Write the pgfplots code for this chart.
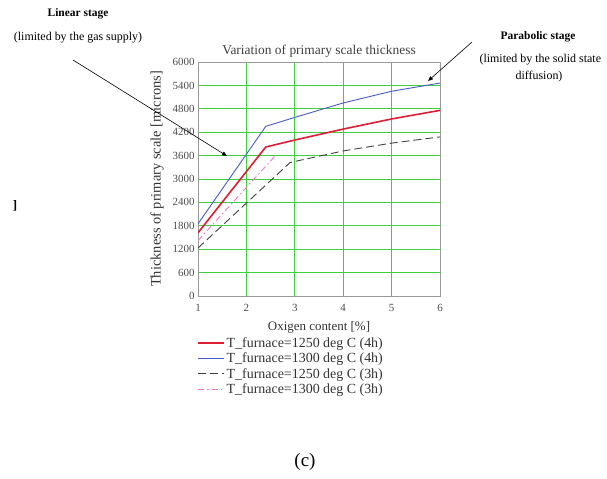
\documentclass[border=0pt]{standalone}
\usepackage{pgfplots}
\pgfplotsset{compat=1.18}
\usepackage{fontspec}
\setmainfont{Liberation Serif}
\usetikzlibrary{arrows.meta}
\definecolor{gridgreen}{RGB}{60,210,60}
\definecolor{bluel}{RGB}{70,90,200}
\definecolor{redl}{RGB}{220,30,50}
\definecolor{pinkl}{RGB}{240,120,200}
\begin{document}
\begin{tikzpicture}
\path[use as bounding box] (0,0) rectangle (607bp,-479bp);
\begin{axis}[
  at={(198bp,-296bp)}, anchor=south west,
  scale only axis, width=242bp, height=234bp,
  xmin=1, xmax=6, ymin=0, ymax=6000,
  xtick={1,2,3,4,5,6}, ytick={0,600,...,6000},
  grid=major, grid style={gridgreen, line width=0.9pt},
  axis line style={gray!80, line width=0.8pt},
  tick style={draw=none},
  ticklabel style={font=\fontsize{11}{12}\selectfont, text=black!70},
  xticklabel style={yshift=-5pt},
  /pgf/number format/assume math mode=true,
  /pgf/number format/1000 sep={},
  title={Variation of primary scale thickness},
  title style={font=\fontsize{13.5}{15}\selectfont, text=black!75, yshift=-5pt},
  xlabel={Oxigen content [\%]},
  xlabel style={font=\fontsize{13}{14}\selectfont, text=black!80, yshift=-3pt},
  ylabel={Thickness of primary scale [microns]},
  ylabel style={font=\fontsize{14.5}{16}\selectfont, text=black!80, yshift=2pt},
  legend style={at={(-0.015,-0.16)}, anchor=north west, draw=none, fill=none,
    font=\fontsize{14}{15}\selectfont, text=black!80, row sep=0pt,
    nodes={inner ysep=2pt}},
  legend image post style={xscale=1.5},
  legend cell align=left,
]
\addplot[redl, line width=1.6pt] coordinates {(1,1620) (2.4,3820) (3,4000) (4,4280) (5,4540) (6,4760)};
\addlegendentry{T\_furnace=1250 deg C (4h)}
\addplot[bluel, line width=0.9pt] coordinates {(1,1850) (2.4,4350) (3,4580) (4,4950) (5,5250) (6,5460)};
\addlegendentry{T\_furnace=1300 deg C (4h)}
\addplot[black!75, line width=0.9pt, dash pattern=on 8pt off 4pt] coordinates {(1,1230) (2.9,3420) (3,3450) (4,3720) (5,3920) (6,4080)};
\addlegendentry{T\_furnace=1250 deg C (3h)}
\addplot[pinkl, line width=0.9pt, dash pattern=on 6pt off 3pt on 1.5pt off 3pt] coordinates {(1,1420) (2.6,3600)};
\addlegendentry{T\_furnace=1300 deg C (3h)}
\end{axis}
\node[font=\bfseries\fontsize{11.5}{13}\selectfont] at (78bp,-14bp) {Linear stage};
\node[font=\fontsize{12}{13}\selectfont] at (78bp,-38bp) {(limited by the gas supply)};
\draw[line width=0.6pt, -{Triangle[length=5pt,width=4pt]}] (73bp,-60bp) -- (227bp,-156bp);
\node[font=\bfseries\fontsize{11.5}{13}\selectfont] at (538bp,-37bp) {Parabolic stage};
\node[font=\fontsize{12}{13}\selectfont, anchor=west] at (476bp,-60bp) {(limited by the solid state};
\node[font=\fontsize{12}{13}\selectfont] at (539bp,-77bp) {diffusion)};
\draw[line width=0.6pt, -{Triangle[length=5pt,width=4pt]}] (472bp,-42bp) -- (428bp,-81bp);
\node[font=\bfseries\fontsize{13}{14}\selectfont] at (15bp,-206bp) {]};
\node[font=\fontsize{19}{21}\selectfont] at (305bp,-462bp) {(c)};
\end{tikzpicture}
\end{document}
